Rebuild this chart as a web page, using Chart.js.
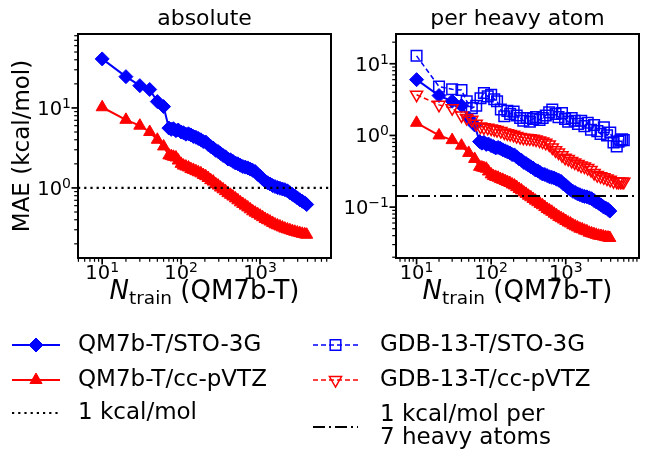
<!DOCTYPE html>
<html>
<head>
<meta charset="utf-8">
<script src="https://cdn.jsdelivr.net/npm/chart.js@4.4.1/dist/chart.umd.min.js"></script>
<style>
  body { margin: 0; background: #fff; }
  #wrap { position: relative; width: 648px; height: 451px; }
  canvas { position: absolute; top: 0; }
  #absChart { left: 0; }
  #heavyChart { left: 300px; }
</style>
</head>
<body>
<div id="wrap">
  <canvas id="absChart" width="340" height="451"></canvas>
  <canvas id="heavyChart" width="348" height="451"></canvas>
</div>
<script>
// training set sizes
const nQM7b = [10, 20, 30, 40, 50, 60,
               70, 75, 80, 86, 92, 100, 107, 115, 124, 133, 143, 154, 165, 178, 191, 205, 220, 237, 255, 274,
               294, 316, 340, 365, 392, 422, 453, 487, 524, 563, 605, 650, 699, 751, 808, 868, 933, 1003, 1078,
               1159, 1246, 1339, 1440, 1548, 1664, 1788, 1922, 2066, 2221, 2388, 2567, 2760, 2967, 3189, 3428,
               3685, 3900];
const nGDB = [10, 20, 30, 40, 47, 55, 63, 72, 80, 90, 100, 110, 120, 135, 150, 165, 180, 200, 220, 245, 270,
              300, 330, 365, 400, 445, 490, 540, 600, 660, 730, 800, 890, 980, 1080, 1200, 1320, 1460, 1610,
              1780, 1970, 2180, 2400, 2650, 2930, 3240, 3580, 3950, 4370, 4830, 5100, 5400, 5700, 6000];

// MAE (kcal/mol), absolute
const absSTO = [41, 24.6, 19, 17, 12, 10.4,
                5.6, 5.4, 5.5, 5.2, 5.3, 5.0, 4.9, 4.7, 4.75, 4.6, 4.4, 4.3, 4.15, 4.0, 3.8, 3.75, 3.5, 3.3,
                3.15, 2.95, 2.85, 2.7, 2.55, 2.45, 2.3, 2.25, 2.15, 2.05, 2.0, 1.92, 1.85, 1.82, 1.78, 1.72,
                1.66, 1.6, 1.48, 1.4, 1.3, 1.22, 1.16, 1.12, 1.07, 1.04, 1.01, 0.99, 0.97, 0.95, 0.92, 0.87,
                0.83, 0.79, 0.75, 0.71, 0.68, 0.65, 0.62];
const absTZ = [10.2, 7.1, 6.0, 5.0, 4.0, 3.3,
               2.55, 2.5, 2.45, 2.4, 2.2, 2.0, 1.9, 1.85, 1.8, 1.72, 1.68, 1.62, 1.57, 1.52, 1.45, 1.4, 1.33,
               1.25, 1.2, 1.12, 1.07, 1.01, 0.96, 0.91, 0.86, 0.82, 0.78, 0.74, 0.7, 0.66, 0.63, 0.6, 0.57,
               0.54, 0.51, 0.49, 0.47, 0.45, 0.43, 0.41, 0.395, 0.38, 0.365, 0.35, 0.34, 0.33, 0.32, 0.31,
               0.303, 0.296, 0.289, 0.283, 0.277, 0.272, 0.267, 0.263, 0.26];

// MAE (kcal/mol) per heavy atom
const heavySTO = [6.0, 3.6, 3.0, 2.6, 1.75, 1.4,
                  0.82, 0.78, 0.8, 0.75, 0.76, 0.72, 0.7, 0.67, 0.68, 0.66, 0.63, 0.61, 0.59, 0.57, 0.54, 0.535,
                  0.5, 0.47, 0.45, 0.42, 0.405, 0.385, 0.365, 0.35, 0.33, 0.32, 0.305, 0.29, 0.285, 0.275, 0.265,
                  0.26, 0.255, 0.245, 0.237, 0.228, 0.21, 0.2, 0.186, 0.174, 0.166, 0.16, 0.153, 0.149, 0.144,
                  0.141, 0.139, 0.135, 0.131, 0.124, 0.118, 0.113, 0.107, 0.101, 0.097, 0.093, 0.088];
const heavyTZ = [1.5, 1.0, 0.86, 0.72, 0.57, 0.47,
                 0.365, 0.357, 0.35, 0.343, 0.314, 0.286, 0.271, 0.264, 0.257, 0.246, 0.24, 0.231, 0.224, 0.217,
                 0.207, 0.2, 0.19, 0.179, 0.171, 0.16, 0.153, 0.144, 0.137, 0.13, 0.123, 0.117, 0.111, 0.106, 0.1,
                 0.094, 0.09, 0.086, 0.081, 0.077, 0.073, 0.07, 0.067, 0.064, 0.061, 0.059, 0.056, 0.054, 0.052,
                 0.05, 0.049, 0.047, 0.046, 0.044, 0.043, 0.042, 0.041, 0.04, 0.0396, 0.0389, 0.0381, 0.0376,
                 0.0371];
const gdbSTO = [12.9, 4.8, 4.4, 4.3, 3.0, 2.4, 2.6, 3.3, 3.9, 3.5, 3.7, 3.2, 3.0, 2.3, 1.85, 2.2, 2.0, 2.15, 1.9,
                1.75, 1.6, 1.75, 1.55, 1.7, 1.8, 1.65, 1.75, 1.9, 2.1, 2.3, 2.0, 1.8, 2.05, 1.7, 1.55, 1.75, 1.6,
                1.45, 1.6, 1.35, 1.5, 1.2, 1.4, 1.15, 1.05, 1.3, 1.0, 1.1, 0.8, 0.7, 0.82, 0.85, 0.88, 0.86];
const gdbTZ = [3.7, 2.67, 2.4, 1.9, 1.75, 1.65, 1.45, 1.33, 1.3, 1.28, 1.25, 1.22, 1.19, 1.15, 1.1, 1.07, 1.05,
               1.02, 0.98, 0.95, 0.93, 0.92, 0.91, 0.9, 0.88, 0.85, 0.82, 0.79, 0.75, 0.68, 0.62, 0.58, 0.53,
               0.49, 0.47, 0.44, 0.42, 0.4, 0.38, 0.37, 0.35, 0.33, 0.3, 0.28, 0.27, 0.26, 0.25, 0.24, 0.23,
               0.226, 0.225, 0.226, 0.225, 0.226];

// reference lines
const oneKcal = 1;
const oneKcalPer7 = 0.1429;

// axis limits
const absX = [4.94, 7930];
const absY = [0.133, 84];
const heavyX = [5.3, 9600];
const heavyY = [0.0195, 26];

const FONT = '"DejaVu Sans"';
const BLUE = '#0000ff';
const RED = '#ff0000';

function pts(xs, ys) {
    return xs.map((x, i) => ({x: x, y: ys[i]}));
}

function logAxis(range, isX, width) {
    return {
        type: 'logarithmic',
        min: range[0],
        max: range[1],
        grid: { display: false, drawTicks: false },
        border: { display: false },
        ticks: { display: false },
        afterFit: function(scale) {
            if (isX) scale.height = 451 - 258;
            else scale.width = width;
        }
    };
}

function drawLogTicks(ctx, scale, a, isX) {
    const lo = Math.floor(Math.log10(scale.min));
    const hi = Math.ceil(Math.log10(scale.max));
    ctx.strokeStyle = '#000';
    for (let e = lo; e <= hi; e++) {
        for (let m = 1; m < 10; m++) {
            const v = m * Math.pow(10, e);
            if (v < scale.min || v > scale.max) continue;
            const p = scale.getPixelForValue(v);
            const len = m === 1 ? 6.5 : 3.8;
            ctx.lineWidth = m === 1 ? 1.7 : 1.2;
            ctx.beginPath();
            if (isX) { ctx.moveTo(p, a.bottom); ctx.lineTo(p, a.bottom + len); }
            else { ctx.moveTo(a.left, p); ctx.lineTo(a.left - len, p); }
            ctx.stroke();
        }
    }
    // 10^n labels with a raised exponent
    ctx.fillStyle = '#000';
    ctx.textAlign = 'left';
    ctx.textBaseline = 'alphabetic';
    for (let e = Math.ceil(Math.log10(scale.min)); e <= Math.floor(Math.log10(scale.max)); e++) {
        const p = scale.getPixelForValue(Math.pow(10, e));
        const ex = e < 0 ? '\u2212' + (-e) : String(e);
        ctx.font = '19.5px ' + FONT;
        const wB = ctx.measureText('10').width;
        ctx.font = '14px ' + FONT;
        const wE = ctx.measureText(ex).width;
        let x, base;
        if (isX) { x = p - (wB + wE) / 2; base = a.bottom + 21; }
        else { x = a.left - 7 - (wB + wE); base = p + 7; }
        ctx.font = '19.5px ' + FONT;
        ctx.fillText('10', x, base);
        ctx.font = '14px ' + FONT;
        ctx.fillText(ex, x + wB, base - 7);
    }
}

function drawMarker(ctx, style, r, x, y, filled) {
    ctx.beginPath();
    if (style === 'rectRot') {
        ctx.moveTo(x, y - r); ctx.lineTo(x + r, y); ctx.lineTo(x, y + r); ctx.lineTo(x - r, y);
    } else if (style === 'rect') {
        const s = r * Math.SQRT1_2;
        ctx.rect(x - s, y - s, 2 * s, 2 * s);
    } else if (style === 'triangle') {
        ctx.moveTo(x, y - r); ctx.lineTo(x + r * 0.866, y + r / 2); ctx.lineTo(x - r * 0.866, y + r / 2);
    } else if (style === 'triangleDown') {
        ctx.moveTo(x, y + r); ctx.lineTo(x + r * 0.866, y - r / 2); ctx.lineTo(x - r * 0.866, y - r / 2);
    }
    ctx.closePath();
    if (filled) ctx.fill();
    ctx.stroke();
}

function drawXTitle(ctx, cx, base) {
    ctx.textAlign = 'left';
    ctx.textBaseline = 'alphabetic';
    ctx.font = 'italic 26px ' + FONT;
    const wN = ctx.measureText('N').width;
    ctx.font = '18.5px ' + FONT;
    const wS = ctx.measureText('train').width;
    ctx.font = '26px ' + FONT;
    const rest = ' (QM7b-T)';
    const wR = ctx.measureText(rest).width;
    let x = cx - (wN + wS + wR) / 2;
    ctx.font = 'italic 26px ' + FONT; ctx.fillText('N', x, base); x += wN;
    ctx.font = '18.5px ' + FONT; ctx.fillText('train', x, base + 5); x += wS;
    ctx.font = '26px ' + FONT; ctx.fillText(rest, x, base);
}

const panelDecor = {
    id: 'panelDecor',
    afterDraw(chart, args, opts) {
        const ctx = chart.ctx;
        const a = chart.chartArea;
        ctx.save();
        drawLogTicks(ctx, chart.scales.x, a, true);
        drawLogTicks(ctx, chart.scales.y, a, false);
        ctx.strokeStyle = '#000';
        ctx.lineWidth = 2;
        ctx.strokeRect(a.left, a.top, a.right - a.left, a.bottom - a.top);

        ctx.fillStyle = '#000';
        ctx.font = '22px ' + FONT;
        ctx.textAlign = 'center';
        ctx.textBaseline = 'alphabetic';
        ctx.fillText(opts.title, (a.left + a.right) / 2, 25);
        drawXTitle(ctx, (a.left + a.right) / 2, 299);

        if (opts.yTitle) {
            ctx.save();
            ctx.translate(23, (a.top + a.bottom) / 2);
            ctx.rotate(-Math.PI / 2);
            ctx.font = '23px ' + FONT;
            ctx.textAlign = 'center';
            ctx.textBaseline = 'middle';
            ctx.fillText(opts.yTitle, 0, 0);
            ctx.restore();
        }

        // legend column
        const lg = opts.legend;
        lg.items.forEach(item => {
            const ds = chart.data.datasets[item.ds];
            const y = item.y;
            ctx.save();
            ctx.strokeStyle = ds.borderColor;
            ctx.lineWidth = ds.borderWidth;
            ctx.setLineDash(ds.borderDash || []);
            ctx.beginPath();
            ctx.moveTo(lg.x0, y);
            ctx.lineTo(lg.x1, y);
            ctx.stroke();
            ctx.setLineDash([]);
            if (ds.pointRadius > 0) {
                ctx.fillStyle = ds.pointBackgroundColor;
                ctx.strokeStyle = ds.pointBorderColor;
                ctx.lineWidth = ds.pointBorderWidth;
                const style = ds.pointRotation === 180 ? 'triangleDown' : ds.pointStyle;
                drawMarker(ctx, style, ds.pointRadius, (lg.x0 + lg.x1) / 2, y, ds.pointBackgroundColor !== 'rgba(0,0,0,0)');
            }
            ctx.restore();
            ctx.fillStyle = '#000';
            ctx.font = '23px ' + FONT;
            ctx.textAlign = 'left';
            ctx.textBaseline = 'middle';
            const lines = item.text;
            lines.forEach((t, i) => {
                ctx.fillText(t, lg.tx, y + (i - (lines.length - 1) / 2) * 23);
            });
        });
        ctx.restore();
    }
};

function markerSet(color, style, radius, open, rotation) {
    return {
        pointStyle: style,
        pointRadius: radius,
        pointRotation: rotation || 0,
        pointBackgroundColor: open ? 'rgba(0,0,0,0)' : color,
        pointBorderColor: color,
        pointBorderWidth: open ? 1.5 : 1
    };
}

function commonOptions(xr, yr, yWidth, padRight, decor) {
    return {
        responsive: false,
        animation: false,
        events: [],
        layout: { padding: { top: 34, right: padRight, left: 0, bottom: 0 } },
        scales: {
            x: logAxis(xr, true),
            y: logAxis(yr, false, yWidth)
        },
        plugins: {
            legend: { display: false },
            tooltip: { enabled: false },
            panelDecor: decor
        }
    };
}

new Chart(document.getElementById('absChart'), {
    type: 'line',
    data: {
        datasets: [
            Object.assign({ label: 'QM7b-T/STO-3G', data: pts(nQM7b, absSTO), borderColor: BLUE,
                            borderWidth: 2, order: 2 }, markerSet(BLUE, 'rectRot', 7)),
            Object.assign({ label: 'QM7b-T/cc-pVTZ', data: pts(nQM7b, absTZ), borderColor: RED,
                            borderWidth: 2, order: 1 }, markerSet(RED, 'triangle', 7)),
            { label: '1 kcal/mol', data: [{x: absX[0], y: oneKcal}, {x: absX[1], y: oneKcal}],
              borderColor: '#000', borderWidth: 2.2, borderDash: [2.2, 4], pointRadius: 0, order: 0 }
        ]
    },
    options: commonOptions(absX, absY, 78, 9, {
        title: 'absolute',
        yTitle: 'MAE (kcal/mol)',
        legend: {
            x0: 12, x1: 60, tx: 78,
            items: [
                { ds: 0, y: 345, text: ['QM7b-T/STO-3G'] },
                { ds: 1, y: 380, text: ['QM7b-T/cc-pVTZ'] },
                { ds: 2, y: 413, text: ['1 kcal/mol'] }
            ]
        }
    }),
    plugins: [panelDecor]
});

new Chart(document.getElementById('heavyChart'), {
    type: 'line',
    data: {
        datasets: [
            Object.assign({ label: 'QM7b-T/STO-3G', data: pts(nQM7b, heavySTO), borderColor: BLUE,
                            borderWidth: 2, order: 4 }, markerSet(BLUE, 'rectRot', 7)),
            Object.assign({ label: 'QM7b-T/cc-pVTZ', data: pts(nQM7b, heavyTZ), borderColor: RED,
                            borderWidth: 2, order: 3 }, markerSet(RED, 'triangle', 7)),
            Object.assign({ label: 'GDB-13-T/STO-3G', data: pts(nGDB, gdbSTO), borderColor: BLUE,
                            borderWidth: 1.5, borderDash: [5, 3], order: 2 }, markerSet(BLUE, 'rect', 7.5, true)),
            Object.assign({ label: 'GDB-13-T/cc-pVTZ', data: pts(nGDB, gdbTZ), borderColor: RED,
                            borderWidth: 1.5, borderDash: [5, 3], order: 1 }, markerSet(RED, 'triangle', 7, true, 180)),
            { label: '1 kcal/mol per 7 heavy atoms',
              data: [{x: heavyX[0], y: oneKcalPer7}, {x: heavyX[1], y: oneKcalPer7}],
              borderColor: '#000', borderWidth: 2, borderDash: [12, 4, 2, 4], pointRadius: 0, order: 0 }
        ]
    },
    options: commonOptions(heavyX, heavyY, 96, 2, {
        title: 'per heavy atom',
        legend: {
            x0: 13, x1: 58, tx: 80,
            items: [
                { ds: 2, y: 345, text: ['GDB-13-T/STO-3G'] },
                { ds: 3, y: 380, text: ['GDB-13-T/cc-pVTZ'] },
                { ds: 4, y: 427, text: ['1 kcal/mol per', '7 heavy atoms'] }
            ]
        }
    }),
    plugins: [panelDecor]
});
</script>
</body>
</html>
